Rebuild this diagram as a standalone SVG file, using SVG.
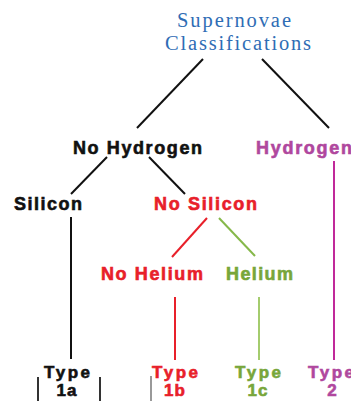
<svg xmlns="http://www.w3.org/2000/svg" width="351" height="401" viewBox="0 0 351 401">
<style>
.t{font-family:"Liberation Serif","Times New Roman",serif;font-size:20.5px;fill:#2f6db5;letter-spacing:2px}
.b{font-family:"Liberation Sans",Arial,sans-serif;font-weight:bold;font-size:18px;stroke-width:0.6px}
.s{font-family:"Liberation Sans",Arial,sans-serif;font-weight:bold;font-size:17px;stroke-width:0.6px}
.k{fill:#111;stroke:#111}.r{fill:#e8202a;stroke:#e8202a}.g{fill:#78a63a;stroke:#78a63a}.p{fill:#b0479e;stroke:#b0479e}
line{stroke-width:2}
</style>
<rect width="351" height="401" fill="#fff"/>
<g id="connectors">
<line x1="203" y1="59" x2="137" y2="128" stroke="#111"/>
<line x1="262" y1="59" x2="329" y2="128" stroke="#111"/>
<line x1="107" y1="157" x2="71" y2="194" stroke="#111"/>
<line x1="149" y1="157" x2="185" y2="194" stroke="#111"/>
<line x1="71" y1="217" x2="71" y2="359" stroke="#111"/>
<line x1="207" y1="218" x2="172" y2="257" stroke="#e8202a"/>
<line x1="219" y1="218" x2="255" y2="256" stroke="#86b84a"/>
<line x1="175" y1="297" x2="175" y2="360" stroke="#e8202a"/>
<line x1="259" y1="297" x2="259" y2="360" stroke="#a4cc6e"/>
<line x1="334" y1="161" x2="334" y2="360" stroke="#c0299a"/>
<line x1="38" y1="377" x2="38" y2="401" stroke="#333" stroke-width="1"/>
<line x1="100" y1="377" x2="100" y2="401" stroke="#333" stroke-width="1"/>
<line x1="151" y1="376" x2="151" y2="401" stroke="#999" stroke-width="1"/>
</g>
<g id="title"><text class="t" x="177" y="27" textLength="116" lengthAdjust="spacing">Supernovae</text><text class="t" x="165" y="50" textLength="148" lengthAdjust="spacing">Classifications</text></g>
<g id="no-hydrogen"><text class="b k" x="73" y="154" textLength="129" lengthAdjust="spacing">No Hydrogen</text></g>
<g id="hydrogen"><text class="b p" x="256" y="154" textLength="96" lengthAdjust="spacing">Hydrogen</text></g>
<g id="silicon"><text class="b k" x="14" y="210" textLength="68" lengthAdjust="spacing">Silicon</text></g>
<g id="no-silicon"><text class="b r" x="154" y="210" textLength="103" lengthAdjust="spacing">No Silicon</text></g>
<g id="no-helium"><text class="b r" x="101" y="280" textLength="102" lengthAdjust="spacing">No Helium</text></g>
<g id="helium"><text class="b g" x="226" y="280" textLength="67" lengthAdjust="spacing">Helium</text></g>
<g id="type1a"><text class="s k" x="44" y="378" textLength="46" lengthAdjust="spacing">Type</text><text class="s k" x="67" y="396" text-anchor="middle" letter-spacing="1">1a</text></g>
<g id="type1b"><text class="s r" x="152" y="378" textLength="46" lengthAdjust="spacing">Type</text><text class="s r" x="175" y="396" text-anchor="middle" letter-spacing="1">1b</text></g>
<g id="type1c"><text class="s g" x="235" y="378" textLength="46" lengthAdjust="spacing">Type</text><text class="s g" x="258" y="396" text-anchor="middle" letter-spacing="1">1c</text></g>
<g id="type2"><text class="s p" x="308" y="378" textLength="46" lengthAdjust="spacing">Type</text><text class="s p" x="332" y="396" text-anchor="middle">2</text></g>
</svg>
